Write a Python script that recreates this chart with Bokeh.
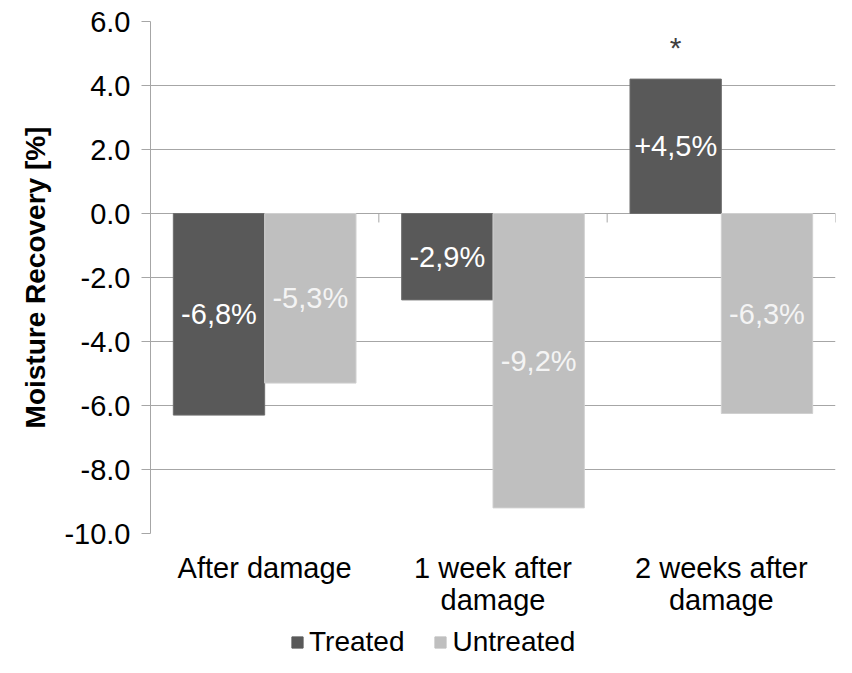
from bokeh.plotting import figure
from bokeh.layouts import column
from bokeh.models import (ColumnDataSource, FactorRange, Range1d, FixedTicker,
                          NumeralTickFormatter, Legend, LegendItem)
from bokeh.transform import dodge
from bokeh.core.properties import value
from bokeh.embed import file_html
from bokeh.resources import INLINE

# ---- data ----
categories = ["After damage", "1 week after\ndamage", "2 weeks after\ndamage"]
treated = [-6.3, -2.7, 4.2]
untreated = [-5.3, -9.2, -6.25]
treated_labels = ["-6,8%", "-2,9%", "+4,5%"]
untreated_labels = ["-5,3%", "-9,2%", "-6,3%"]
significance = ["", "", "*"]
series_names = ["Treated", "Untreated"]
y_ticks = [-10, -8, -6, -4, -2, 0, 2, 4, 6]

FONT = "Liberation Sans"
DARK = "#595959"
LIGHT = "#bfbfbf"
GRID = "#a6a6a6"

src = ColumnDataSource(dict(
    cat=categories,
    treated=treated,
    untreated=untreated,
    t_mid=[v / 2 for v in treated],
    u_mid=[v / 2 for v in untreated],
    t_lab=treated_labels,
    u_lab=untreated_labels,
    sig=significance,
    sig_y=[v + 1.0 for v in treated],
    zero=[0] * len(categories),
    tick_end=[-0.28] * len(categories),
))

p = figure(x_range=FactorRange(*categories, range_padding=0),
           y_range=Range1d(-10, 6),
           width=836, frame_height=512,
           output_backend="svg", toolbar_location=None,
           min_border_left=150, min_border_right=1,
           min_border_top=21, min_border_bottom=0)

p.outline_line_color = None
p.background_fill_color = "white"
p.border_fill_color = "white"

# grid
p.xgrid.grid_line_color = None
p.ygrid.grid_line_color = GRID
p.ygrid.grid_line_width = 1

# y axis
p.yaxis.ticker = FixedTicker(ticks=y_ticks)
p.yaxis.formatter = NumeralTickFormatter(format="0.0")
p.yaxis.axis_line_color = GRID
p.yaxis.major_tick_line_color = GRID
p.yaxis.major_tick_out = 9
p.yaxis.major_tick_in = 0
p.yaxis.minor_tick_line_color = None
p.yaxis.major_label_text_font = FONT
p.yaxis.major_label_text_font_size = "29px"
p.yaxis.major_label_text_color = "#000000"
p.yaxis.major_label_standoff = 11
p.yaxis.axis_label = "Moisture Recovery [%]"
p.yaxis.axis_label_text_font = FONT
p.yaxis.axis_label_text_font_size = "28px"
p.yaxis.axis_label_text_font_style = "bold"
p.yaxis.axis_label_text_color = "#000000"
p.yaxis.axis_label_standoff = 10

# x axis
p.xaxis.axis_line_color = None
p.xaxis.major_tick_line_color = None
p.xaxis.minor_tick_line_color = None
p.xaxis.major_label_text_font = FONT
p.xaxis.major_label_text_font_size = "29px"
p.xaxis.major_label_text_line_height = 1.0
p.xaxis.major_label_text_color = "#000000"
p.xaxis.major_label_standoff = 12

# category boundary ticks on the zero line
p.segment(x0=dodge("cat", 0.5, range=p.x_range), y0="zero",
          x1=dodge("cat", 0.5, range=p.x_range), y1="tick_end",
          line_color=GRID, line_width=1, source=src)

# bars
p.vbar(x=dodge("cat", -0.2, range=p.x_range), top="treated", bottom=0,
       width=0.4, fill_color=DARK, line_color="#6e6e6e", line_width=1,
       source=src)
p.vbar(x=dodge("cat", 0.2, range=p.x_range), top="untreated", bottom=0,
       width=0.4, fill_color=LIGHT, line_color="#d0d0d0", line_width=1,
       source=src)

# value labels
p.text(x=dodge("cat", -0.2, range=p.x_range), y="t_mid", text="t_lab",
       text_align="center", text_baseline="middle", text_color="#ffffff",
       text_font=value(FONT), text_font_size="29px", source=src)
p.text(x=dodge("cat", 0.2, range=p.x_range), y="u_mid", text="u_lab",
       text_align="center", text_baseline="middle", text_color="#f4f4f4",
       text_font=value(FONT), text_font_size="29px", source=src)

# significance marker
p.text(x=dodge("cat", -0.2, range=p.x_range), y="sig_y", text="sig",
       text_align="center", text_baseline="middle", text_color="#404040",
       text_font=value(FONT), text_font_size="30px", source=src)

# ---- legend strip below the chart (its bars lie outside its visible range) ----
lp = figure(width=836, height=40, x_range=FactorRange(*categories),
            y_range=Range1d(20, 21),
            output_backend="svg", toolbar_location=None,
            min_border_left=0, min_border_right=0,
            min_border_top=0, min_border_bottom=0)
lp.axis.visible = False
lp.grid.visible = False
lp.outline_line_color = None
lt = lp.vbar(x="cat", top="treated", bottom=0, width=0.4, fill_color=DARK,
             line_color=DARK, source=src)
lu = lp.vbar(x="cat", top="untreated", bottom=0, width=0.4, fill_color=LIGHT,
             line_color=LIGHT, source=src)

legend = Legend(items=[LegendItem(label=series_names[0], renderers=[lt]),
                       LegendItem(label=series_names[1], renderers=[lu])],
                orientation="horizontal", location=(140, 0),
                border_line_color=None, background_fill_alpha=0,
                padding=0, margin=0, spacing=29, label_standoff=5,
                glyph_width=14, glyph_height=14,
                label_text_font=FONT, label_text_font_size="28px",
                label_text_color="#000000")
lp.add_layout(legend)

layout = column(p, lp, spacing=0)
open("out.html", "w").write(file_html(layout, INLINE))
